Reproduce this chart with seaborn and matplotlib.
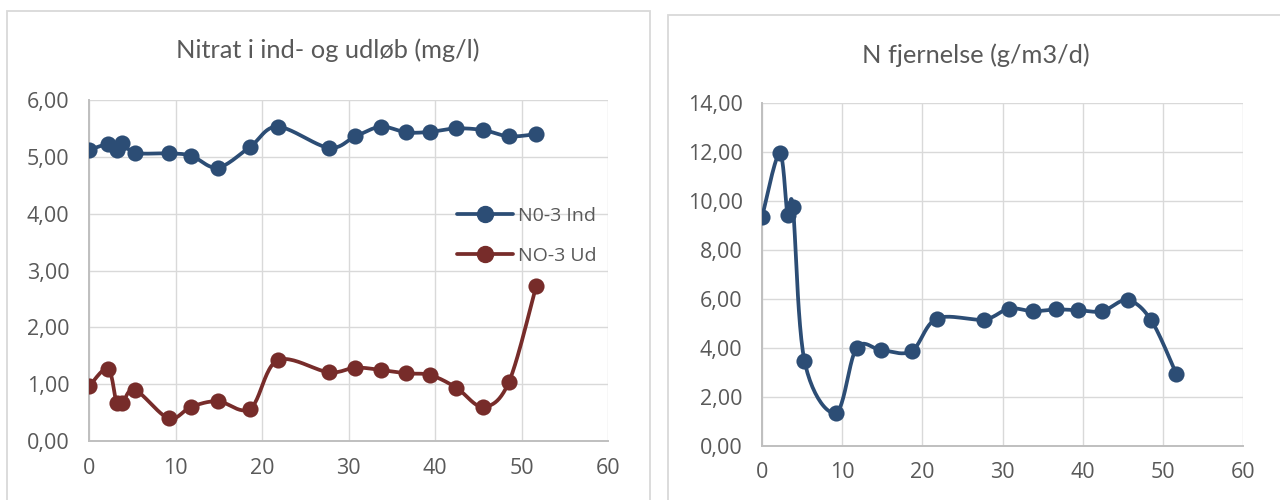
import numpy as np
import pandas as pd
import matplotlib
matplotlib.use("Agg")
import matplotlib.pyplot as plt
from matplotlib.lines import Line2D
from matplotlib.patches import Rectangle
from matplotlib.ticker import FixedLocator, FuncFormatter
import seaborn as sns

# ---------------- data ----------------
days = [0, 2.2, 3.2, 3.85, 5.3, 9.2, 11.8, 14.9, 18.65, 21.8, 27.7,
        30.8, 33.75, 36.7, 39.45, 42.45, 45.6, 48.55, 51.7]
nitrat_ind = [5.12, 5.22, 5.12, 5.24, 5.07, 5.06, 5.02, 4.81, 5.18, 5.53, 5.16,
              5.36, 5.53, 5.43, 5.44, 5.50, 5.47, 5.36, 5.40]
nitrat_ud = [0.96, 1.27, 0.66, 0.66, 0.90, 0.40, 0.60, 0.70, 0.57, 1.42, 1.21,
             1.29, 1.25, 1.19, 1.16, 0.94, 0.60, 1.04, 2.73]
n_fjern = [9.33, 11.93, 9.40, 9.76, 3.46, 1.34, 3.99, 3.90, 3.86, 5.19, 5.15,
           5.60, 5.49, 5.56, 5.53, 5.49, 5.94, 5.12, 2.92]

title_left = "Nitrat i ind- og udløb (mg/l)"
title_right = "N fjernelse (g/m3/d)"
label_ind = "N0-3 Ind"
label_ud = "NO-3 Ud"

BLUE = "#2C4D75"
RED = "#772C2A"
GRID = "#D9D9D9"
AXIS = "#BFBFBF"
TXT = "#595959"

sns.set_theme(style="white")
plt.rcParams["font.family"] = ["Open Sans", "DejaVu Sans"]


def smooth(x, y, n=25):
    """Excel-like smoothed line (Catmull-Rom style cubic Bezier)."""
    x = np.asarray(x, float)
    y = np.asarray(y, float)
    P = np.column_stack([x, y])
    out = []
    m = len(P)
    t = np.linspace(0, 1, n)[:, None]
    for i in range(m - 1):
        p0 = P[i - 1] if i > 0 else P[i]
        p1 = P[i]
        p2 = P[i + 1]
        p3 = P[i + 2] if i + 2 < m else P[i + 1]
        c1 = p1 + (p2 - p0) / 6.0
        c2 = p2 - (p3 - p1) / 6.0
        seg = ((1 - t) ** 3) * p1 + 3 * ((1 - t) ** 2) * t * c1 + 3 * (1 - t) * t ** 2 * c2 + t ** 3 * p2
        out.append(seg if i == 0 else seg[1:])
    out = np.vstack(out)
    return out[:, 0], out[:, 1]


def draw_series(ax, x, y, color):
    sx, sy = smooth(x, y)
    sns.lineplot(x=sx, y=sy, sort=False, estimator=None, ax=ax, color=color,
                 linewidth=2.7, zorder=3)
    sns.scatterplot(x=x, y=y, ax=ax, color=color, s=135, edgecolor=color,
                    linewidth=0, zorder=4)


def style_axes(ax, ymax, ystep):
    ax.set_xlim(0, 60)
    ax.set_ylim(0, ymax)
    ax.xaxis.set_major_locator(FixedLocator(np.arange(0, 61, 10)))
    ax.yaxis.set_major_locator(FixedLocator(np.arange(0, ymax + 0.001, ystep)))
    ax.yaxis.set_major_formatter(FuncFormatter(lambda v, p: f"{v:.2f}".replace(".", ",")))
    ax.xaxis.set_major_formatter(FuncFormatter(lambda v, p: f"{v:.0f}"))
    ax.grid(True, color=GRID, linewidth=1.0, zorder=0)
    ax.set_axisbelow(True)
    for s in ["top", "right"]:
        ax.spines[s].set_visible(False)
    for s in ["left", "bottom"]:
        ax.spines[s].set_color(AXIS)
        ax.spines[s].set_linewidth(1.4)
    ax.tick_params(axis="both", length=0, labelsize=15.5, colors=TXT)
    ax.tick_params(axis="y", pad=14)
    ax.tick_params(axis="x", pad=12)
    ax.set_xlabel("")
    ax.set_ylabel("")
    ax.set_facecolor("white")


fig = plt.figure(figsize=(12.8, 5.0), dpi=100)
fig.patch.set_facecolor("white")

# panel borders (pixel coords -> figure fraction)
W, H = 1280.0, 500.0
def rect_px(x0, y0, x1, y1):
    return Rectangle((x0 / W, 1 - y1 / H), (x1 - x0) / W, (y1 - y0) / H,
                     transform=fig.transFigure, fill=False, edgecolor=GRID,
                     linewidth=1.3, clip_on=False)
fig.patches.append(rect_px(7, 11, 650, 520))
fig.patches.append(rect_px(668, 15, 1300, 520))

# left chart
axL = fig.add_axes([89 / W, 1 - 441 / H, (608 - 89) / W, (441 - 100) / H])
draw_series(axL, days, nitrat_ind, BLUE)
draw_series(axL, days, nitrat_ud, RED)
style_axes(axL, 6, 1)
handles = [Line2D([0], [0], color=BLUE, lw=2.7, marker="o", markersize=11.5),
           Line2D([0], [0], color=RED, lw=2.7, marker="o", markersize=11.5)]
leg = axL.legend(handles, [label_ind, label_ud], loc="upper left",
                 bbox_to_anchor=((449 - 89) / (608 - 89), (441 - 199) / (441 - 100)),
                 frameon=False, fontsize=14, handlelength=2.9, handletextpad=0.25,
                 labelspacing=1.15, labelcolor=TXT, borderaxespad=0)
fig.text(328 / W, 1 - 50 / H, title_left, ha="center", va="center",
         fontsize=18.3, color=TXT, family=["Lato", "DejaVu Sans"])

# right chart
axR = fig.add_axes([762 / W, 1 - 445.7 / H, (1243 - 762) / W, (445.7 - 102.7) / H])
draw_series(axR, days, n_fjern, BLUE)
style_axes(axR, 14, 2)
fig.text(976 / W, 1 - 55 / H, title_right, ha="center", va="center",
         fontsize=18.3, color=TXT, family=["Lato", "DejaVu Sans"])

fig.savefig("out.png", dpi=100, facecolor="white")
